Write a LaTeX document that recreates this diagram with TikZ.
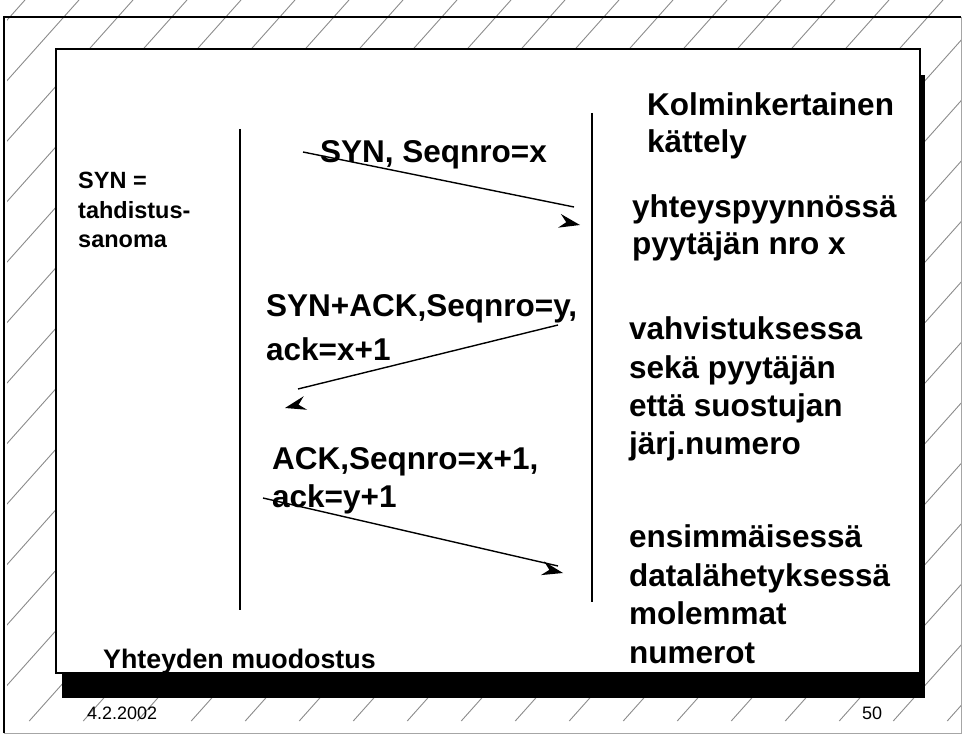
\documentclass[tikz,border=0pt]{standalone}
\usepackage{fontspec}
\setmainfont{Liberation Sans}
\begin{document}
\begin{tikzpicture}[x=1pt,y=-1pt,
  hatch/.style={draw=black!45, line width=0.9pt},
  life/.style={line width=2pt},
  msg/.style={line width=1.4pt},
  big/.style={font=\fontsize{31.5}{38.5}\selectfont\bfseries, inner sep=0pt, anchor=base west, align=left},
  small/.style={font=\fontsize{23.5}{29.5}\selectfont\bfseries, inner sep=0pt, anchor=base west, align=left},
  titlefont/.style={font=\fontsize{26.8}{30}\selectfont\bfseries, inner sep=0pt, anchor=base west},
  foot/.style={font=\fontsize{18}{22}\selectfont, inner sep=0pt, anchor=base west},
  ahead/.pic={\fill (0,0) -- (-21,-7) -- (-14,0) -- (-21,7) -- cycle;}
]
\useasboundingbox (0,0) rectangle (962,735);
\fill[white] (0,0) rectangle (962,735);
% hatching
\begin{scope}
  \clip (7,0) rectangle (962,721);
  \foreach \k in {0,...,30} {
    \draw[hatch] ({25+54*\k},0) -- ({25+54*\k-643.75},721);
  }
\end{scope}
% outer frame
\draw[line width=1.5pt] (4,733) -- (4,17) -- (961,17);
\draw[black!35, line width=1pt] (961,17) -- (961,733) -- (4,733);
% shadow and slide box
\fill[black] (62,75) rectangle (925,698);
\draw[fill=white, line width=1.5pt] (56,49) rectangle (920,673);
% lifelines
\coordinate (la) at (240,129); \coordinate (lb) at (240,610);
\coordinate (ra) at (592,113); \coordinate (rb) at (592,602);
\draw[life] (la) -- (lb);
\draw[life] (ra) -- (rb);
% messages
\coordinate (m1s) at (303,152); \coordinate (m1e) at (574,207); \coordinate (h1) at (580,225);
\coordinate (m2s) at (558,325); \coordinate (m2e) at (298,389); \coordinate (h2) at (285,408);
\coordinate (m3s) at (263,498); \coordinate (m3e) at (558,566); \coordinate (h3) at (563,573);
% texts (multi-line nodes are placed by the baseline of their last line)
\node[big] (t1) at (320,163) {SYN, Seqnro=x};
\node[big] (t2) at (266,361) {SYN+ACK,Seqnro=y,\\[5.5pt]ack=x+1};
\node[big] (t3) at (272,507) {ACK,Seqnro=x+1,\\[-1.5pt]ack=y+1};
\node[big] (k) at (647,153) {Kolminkertainen\\[-1.5pt]kättely};
\node[big] (y) at (632,255) {yhteyspyynnössä\\[-1.5pt]pyytäjän nro x};
\node[big] (v) at (629,455) {vahvistuksessa\\sekä pyytäjän\\että suostujan\\järj.numero};
\node[big] (e) at (629,663) {ensimmäisessä\\datalähetyksessä\\molemmat\\numerot};
\node[small] (syn) at (78,248) {SYN =\\tahdistus-\\sanoma};
\node[titlefont] (title) at (103,668) {Yhteyden muodostus};
\node[foot] (date) at (87,719) {4.2.2002};
\node[foot] (pg) at (862,719) {50};
% message lines and detached heads
\draw[msg] (m1s) -- (m1e);
\pic[rotate=-11.5] at (h1) {ahead};
\draw[msg] (m2s) -- (m2e);
\pic[rotate=193.8] at (h2) {ahead};
\draw[msg] (m3s) -- (m3e);
\pic[rotate=-13] at (h3) {ahead};
\end{tikzpicture}
\end{document}
